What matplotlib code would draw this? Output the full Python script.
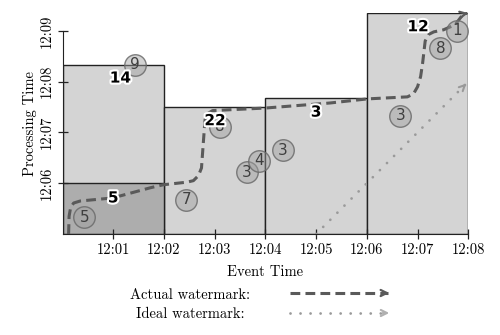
import matplotlib
matplotlib.use("Agg")
import matplotlib.pyplot as plt
import matplotlib.patheffects as pe
from matplotlib.patches import Rectangle

# ---- data (minutes after 12:00) ----
win_start = [0, 2, 4, 6]
win_end = [2, 4, 6, 8]
pane_top = [8.33, 7.50, 7.68, 9.35]
early_pane_top = 6.0  # dark first pane (0-2) up to 12:06

pt_x = [1.42, 0.43, 2.44, 3.11, 3.64, 3.88, 4.35, 6.66, 7.45, 7.78]
pt_y = [8.33, 5.33, 5.67, 7.11, 6.22, 6.44, 6.65, 7.33, 8.66, 9.00]
pt_val = ["9", "5", "7", "8", "3", "4", "3", "3", "8", "1"]

sum_x = [1.14, 1.00, 3.01, 5.00, 7.01]
sum_y = [8.07, 5.71, 7.23, 7.40, 9.08]
sum_txt = ["14", "5", "22", "3", "12"]

wm_x = [0.12, 0.13, 0.16, 0.22, 0.35, 0.99, 1.73, 1.99, 2.45, 2.58, 2.68, 2.74,
        2.78, 2.81, 2.86, 2.96, 4.00, 5.28, 6.01, 6.80, 6.92, 7.00, 7.06, 7.10,
        7.15, 7.22, 7.32, 7.51, 7.74, 7.90]
wm_y = [5.00, 5.35, 5.52, 5.61, 5.65, 5.71, 5.91, 5.97, 6.02, 6.05, 6.15, 6.30,
        6.85, 7.25, 7.37, 7.43, 7.48, 7.58, 7.66, 7.70, 7.76, 7.90, 8.10, 8.37,
        8.80, 8.93, 8.98, 9.02, 9.12, 9.33]

ideal_x = [5.0, 7.97]
ideal_y = [5.0, 7.97]

xticks = [1, 2, 3, 4, 5, 6, 7, 8]
xticklabels = ["12:01", "12:02", "12:03", "12:04", "12:05", "12:06", "12:07", "12:08"]
yticks = [6, 7, 8, 9]
yticklabels = ["12:06", "12:07", "12:08", "12:09"]

serif = "cmr10"

fig = plt.figure(figsize=(5.0, 3.35), dpi=100)
ax = fig.add_axes([0.125, 0.3015, 0.8116, 0.6595])
ax.set_xlim(0, 8)
ax.set_ylim(5, 9.35)

light = "#d4d4d4"
dark = "#adadad"
for s, e, t in zip(win_start, win_end, pane_top):
    ax.add_patch(Rectangle((s, 5), e - s, t - 5, facecolor=light,
                           edgecolor="#222222", lw=1.0, zorder=1))
ax.add_patch(Rectangle((win_start[0], 5), win_end[0] - win_start[0],
                       early_pane_top - 5, facecolor=dark,
                       edgecolor="#222222", lw=1.0, zorder=1.5))

# ideal watermark
ax.plot(ideal_x, ideal_y, color="#9a9a9a", lw=2.0, linestyle=(0, (0.01, 3.6)),
        dash_capstyle="round", zorder=2, clip_on=False)
ax.annotate("", xy=(ideal_x[-1] + 0.03, ideal_y[-1] + 0.03),
            xytext=(ideal_x[-1] - 0.1, ideal_y[-1] - 0.1),
            arrowprops=dict(arrowstyle="->", color="#9a9a9a", lw=1.5,
                            mutation_scale=10), zorder=2, annotation_clip=False)

# actual watermark
ax.plot(wm_x, wm_y, color="#5a5a5a", lw=2.2, linestyle=(0, (3.2, 1.7)),
        zorder=3, clip_on=False, solid_joinstyle="round")
ax.annotate("", xy=(8.0, 9.35), xytext=(7.9, 9.33),
            arrowprops=dict(arrowstyle="->", color="#5a5a5a", lw=1.6,
                            mutation_scale=11), zorder=3, annotation_clip=False)

# data points
ax.scatter(pt_x, pt_y, s=240, facecolor=(0.62, 0.62, 0.62, 0.45),
           edgecolor=(0.42, 0.42, 0.42, 0.85),
           linewidths=1.0, zorder=4, clip_on=False)
for x, y, v in zip(pt_x, pt_y, pt_val):
    ax.text(x, y, v, ha="center", va="center", fontsize=11, color="#3f3f3f",
            family="DejaVu Sans", zorder=5)

# pane sums
for x, y, t in zip(sum_x, sum_y, sum_txt):
    ax.text(x, y, t, ha="center", va="center", fontsize=11, fontweight="bold",
            color="black", family="DejaVu Sans", zorder=6,
            path_effects=[pe.withStroke(linewidth=3, foreground="white")])

# axes styling
for sp in ["top", "right"]:
    ax.spines[sp].set_visible(False)
ax.spines["left"].set_bounds(5, 9)
ax.spines["bottom"].set_bounds(0, 8)
ax.spines["left"].set_color("#222222")
ax.spines["bottom"].set_color("#222222")
ax.set_xticks(xticks)
ax.set_xticklabels(xticklabels, fontsize=10.5, family=serif)
ax.set_yticks(yticks)
ax.set_yticklabels(yticklabels, fontsize=10.5, family=serif, rotation=90,
                   va="center")
ax.tick_params(axis="both", direction="inout", length=7, width=0.9,
               color="#222222", pad=3)
ax.set_xlabel("Event Time", fontsize=10.5, family=serif, labelpad=6)
ax.set_ylabel("Processing Time", fontsize=10.5, family=serif, labelpad=2)

# legend
fig.text(0.38, 1 - 295 / 335, "Actual watermark:", ha="center", va="center",
         fontsize=10.5, family=serif)
fig.text(0.38, 1 - 314 / 335, "Ideal watermark:", ha="center", va="center",
         fontsize=10.5, family=serif)
fig.add_artist(matplotlib.lines.Line2D([290 / 500, 388 / 500],
                                       [1 - 293 / 335, 1 - 293 / 335],
                                       color="#5a5a5a", lw=2.2,
                                       linestyle=(0, (3.2, 1.7))))
fig.add_artist(matplotlib.lines.Line2D([290 / 500, 388 / 500],
                                       [1 - 313 / 335, 1 - 313 / 335],
                                       color="#9a9a9a", lw=2.0,
                                       linestyle=(0, (0.01, 3.6)),
                                       dash_capstyle="round"))
fig.add_artist(matplotlib.patches.FancyArrowPatch(
    (380 / 500, 1 - 293 / 335), (392 / 500, 1 - 293 / 335),
    transform=fig.transFigure, arrowstyle="->", color="#5a5a5a", lw=1.6,
    mutation_scale=11))
fig.add_artist(matplotlib.patches.FancyArrowPatch(
    (380 / 500, 1 - 313 / 335), (392 / 500, 1 - 313 / 335),
    transform=fig.transFigure, arrowstyle="->", color="#b0b0b0", lw=1.5,
    mutation_scale=11))

fig.savefig("out.png", dpi=100)
